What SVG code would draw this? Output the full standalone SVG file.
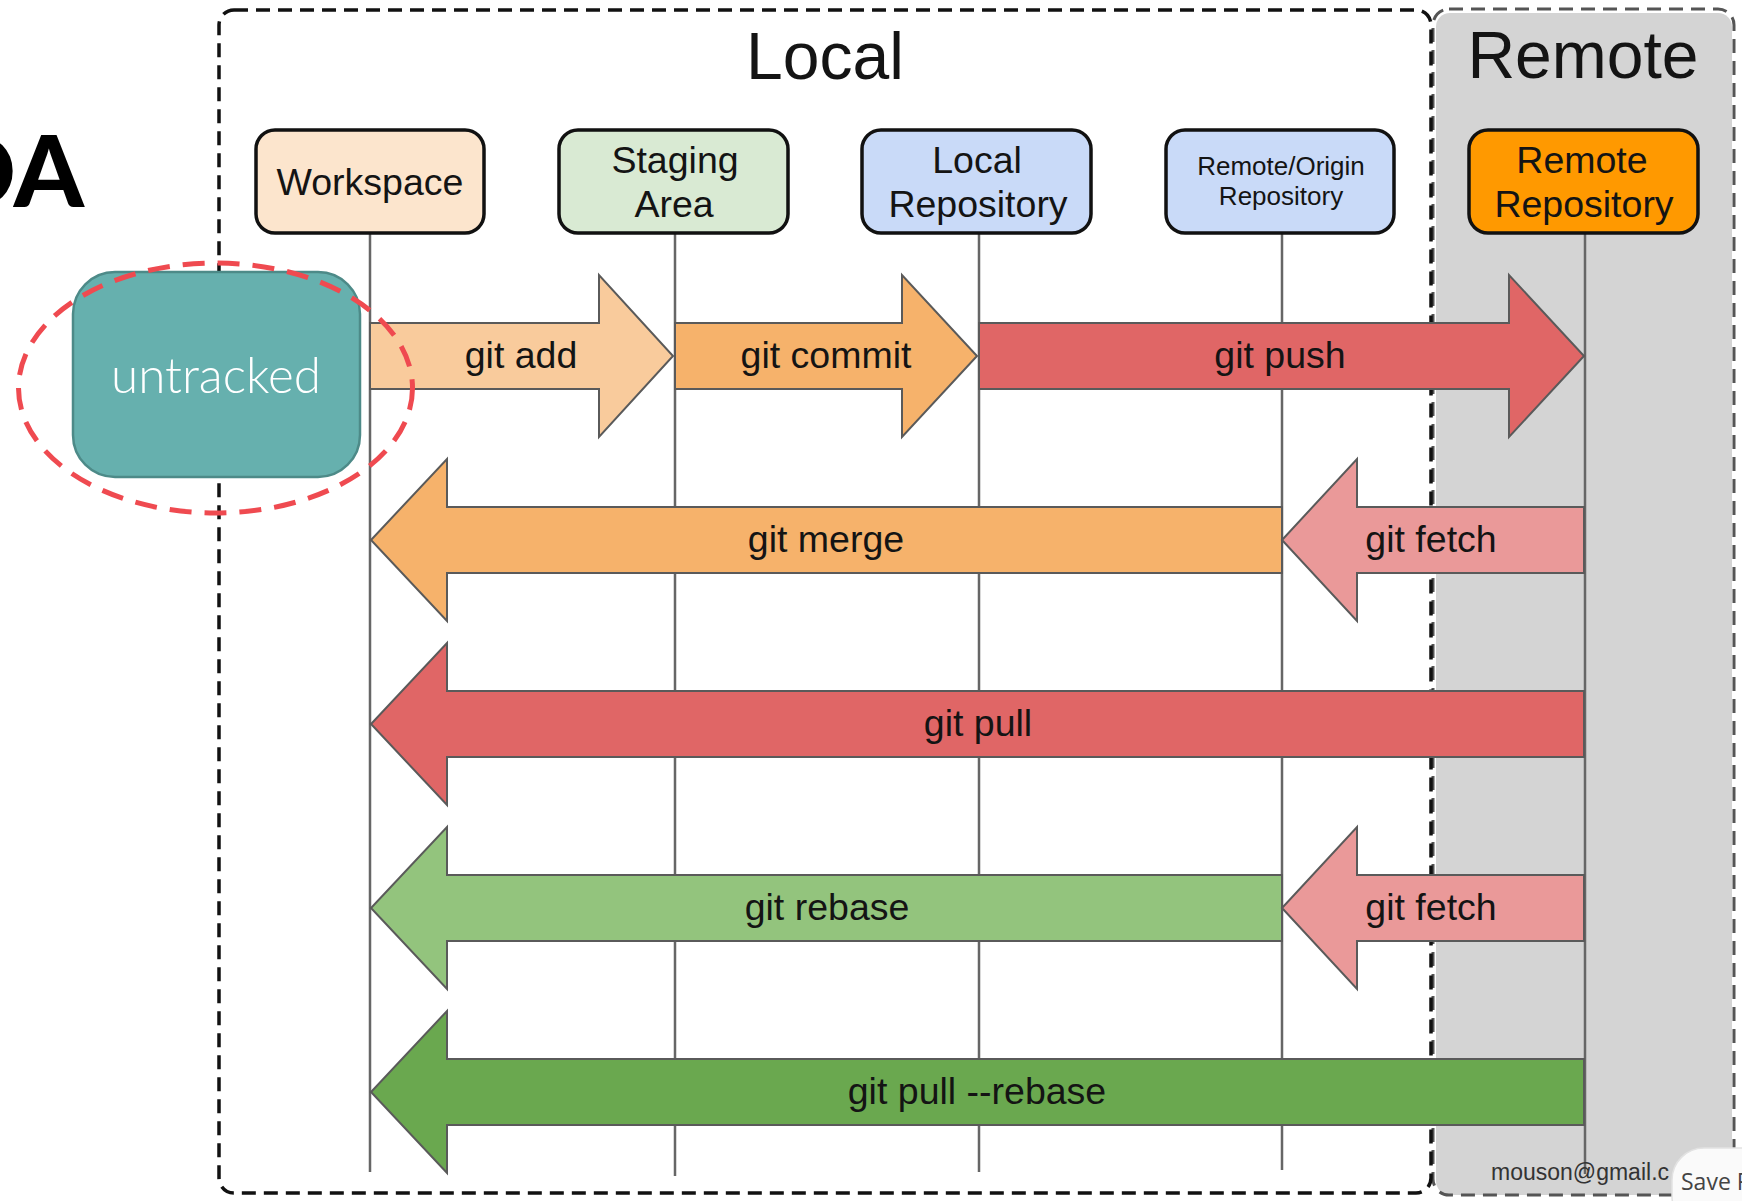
<svg xmlns="http://www.w3.org/2000/svg" width="1742" height="1201" viewBox="0 0 1742 1201">
  <style>
    .t { font-family: "Liberation Sans", Arial, sans-serif; fill: #141414; text-anchor: middle; }
    .title { font-size: 66px; }
    .lbl { font-size: 37.5px; }
    .small { font-size: 26px; }
    .node rect { stroke: #111; stroke-width: 3.5; }
    .life { stroke: #666; stroke-width: 2.5; fill: none; }
    .arrow { stroke: #5a5a5a; stroke-width: 2; stroke-linejoin: miter; }
  </style>

  <rect width="1742" height="1201" fill="#ffffff"/>

  <!-- partial heading at the far left -->
  <text x="84" y="207" font-family="Lato, 'DejaVu Sans', sans-serif" font-weight="900" font-size="100" text-anchor="end" fill="#000">DA</text>

  <!-- Remote zone -->
  <g id="zone-remote">
    <rect x="1436" y="13" width="296" height="1182" rx="14" fill="#d4d4d4"/>
    <rect x="1433" y="9" width="301" height="1186" rx="16" fill="none" stroke="#555" stroke-width="3" stroke-dasharray="14 8"/>
    <text class="t title" x="1583" y="78">Remote</text>
  </g>

  <!-- Local zone -->
  <g id="zone-local">
    <rect x="219" y="10" width="1212" height="1183" rx="15" fill="none" stroke="#111" stroke-width="3.5" stroke-dasharray="14 8"/>
    <text class="t title" x="825" y="79">Local</text>
  </g>

  <!-- lifelines -->
  <g id="lifelines">
    <line class="life" x1="370" y1="233" x2="370" y2="1172"/>
    <line class="life" x1="675" y1="233" x2="675" y2="1176"/>
    <line class="life" x1="979" y1="233" x2="979" y2="1172"/>
    <line class="life" x1="1282" y1="233" x2="1282" y2="1170"/>
    <line class="life" x1="1585" y1="233" x2="1585" y2="1174"/>
  </g>

  <!-- nodes -->
  <g id="node-workspace" class="node">
    <rect x="256" y="130" width="228" height="103" rx="19" fill="#fce5cd"/>
    <text class="t lbl" x="370" y="195">Workspace</text>
  </g>
  <g id="node-staging" class="node">
    <rect x="559" y="130" width="229" height="103" rx="19" fill="#d9ead3"/>
    <text class="t lbl" x="675" y="173">Staging</text>
    <text class="t lbl" x="674" y="217">Area</text>
  </g>
  <g id="node-local-repo" class="node">
    <rect x="862" y="130" width="229" height="103" rx="19" fill="#c9daf8"/>
    <text class="t lbl" x="977" y="173">Local</text>
    <text class="t lbl" x="978" y="217">Repository</text>
  </g>
  <g id="node-origin-repo" class="node">
    <rect x="1166" y="130" width="228" height="103" rx="19" fill="#c9daf8"/>
    <text class="t small" x="1281" y="175">Remote/Origin</text>
    <text class="t small" x="1281" y="205">Repository</text>
  </g>
  <g id="node-remote-repo" class="node">
    <rect x="1469" y="130" width="229" height="103" rx="19" fill="#ff9900"/>
    <text class="t lbl" x="1582" y="173">Remote</text>
    <text class="t lbl" x="1584" y="217">Repository</text>
  </g>

  <!-- connectors: block arrows between lifelines -->
  <g id="connectors">
    <g id="edge-add">
      <polygon class="arrow" fill="#f9cb9c" points="370,323 599,323 599,275 673,356 599,437 599,389 370,389"/>
      <text class="t lbl" x="521" y="368">git add</text>
    </g>
    <g id="edge-commit">
      <polygon class="arrow" fill="#f6b26b" points="675,323 902,323 902,275 977,356 902,437 902,389 675,389"/>
      <text class="t lbl" x="826" y="368">git commit</text>
    </g>
    <g id="edge-push">
      <polygon class="arrow" fill="#e06666" points="979,323 1509,323 1509,275 1584,356 1509,437 1509,389 979,389"/>
      <text class="t lbl" x="1280" y="368">git push</text>
    </g>

    <g id="edge-merge">
      <polygon class="arrow" fill="#f6b26b" points="1282,507 447,507 447,459 371,540 447,621 447,573 1282,573"/>
      <text class="t lbl" x="826" y="552">git merge</text>
    </g>
    <g id="edge-fetch-1">
      <polygon class="arrow" fill="#ea9999" points="1584,507 1357,507 1357,459 1282,540 1357,621 1357,573 1584,573"/>
      <text class="t lbl" x="1431" y="552">git fetch</text>
    </g>

    <g id="edge-pull">
      <polygon class="arrow" fill="#e06666" points="1584,691 447,691 447,643 371,724 447,805 447,757 1584,757"/>
      <text class="t lbl" x="978" y="736">git pull</text>
    </g>

    <g id="edge-rebase">
      <polygon class="arrow" fill="#93c47d" points="1282,875 447,875 447,827 371,908 447,989 447,941 1282,941"/>
      <text class="t lbl" x="827" y="920">git rebase</text>
    </g>
    <g id="edge-fetch-2">
      <polygon class="arrow" fill="#ea9999" points="1584,875 1357,875 1357,827 1282,908 1357,989 1357,941 1584,941"/>
      <text class="t lbl" x="1431" y="920">git fetch</text>
    </g>

    <g id="edge-pull-rebase">
      <polygon class="arrow" fill="#6aa84f" points="1584,1059 447,1059 447,1011 371,1092 447,1173 447,1125 1584,1125"/>
      <text class="t lbl" x="977" y="1104">git pull --rebase</text>
    </g>
  </g>

  <!-- untracked files, outside version control -->
  <g id="node-untracked">
    <rect x="73" y="272" width="287" height="205" rx="42" fill="#66b0ae" stroke="#4d8a88" stroke-width="2.5"/>
    <text x="216" y="393" font-family="Lato, 'Open Sans', sans-serif" font-weight="300" font-size="49" fill="#ffffff" text-anchor="middle" textLength="210" lengthAdjust="spacingAndGlyphs">untracked</text>
  </g>
  <g id="untracked-highlight">
    <ellipse cx="215.5" cy="388" rx="197" ry="125" fill="none" stroke="#ef4a50" stroke-width="5" stroke-dasharray="22 13"/>
  </g>

  <!-- credit and overlay button -->
  <text x="1491" y="1180" font-family="'Liberation Sans', Arial, sans-serif" font-size="23" fill="#333">mouson@gmail.c</text>
  <g id="save-button">
    <rect x="1672" y="1148" width="110" height="80" rx="32" fill="#fafafa" stroke="#e2e2e2" stroke-width="1.5"/>
    <text x="1681" y="1190" font-family="'Open Sans', 'Liberation Sans', sans-serif" font-size="23" fill="#444">Save P</text>
  </g>
</svg>
